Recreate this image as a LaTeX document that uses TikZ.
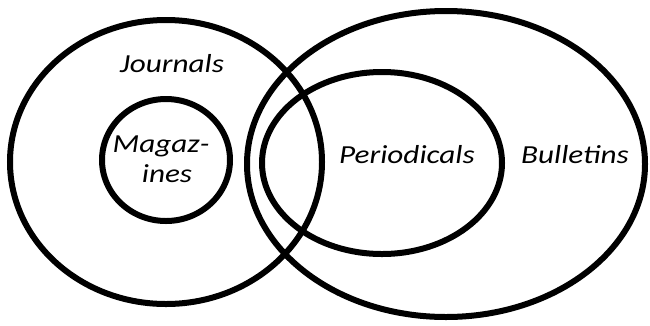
\documentclass[tikz,border=0pt]{standalone}
\usepackage{fontspec}
\setmainfont{Carlito}
\newfontfamily\lblfont[FakeStretch=1.2]{Carlito}
\begin{document}
\begin{tikzpicture}[x=1pt,y=-1pt,
  ring/.style={draw=black,line width=6pt},
  lbl/.style={font=\lblfont\itshape\fontsize{26}{30}\selectfont,inner sep=0pt,anchor=base}]
\useasboundingbox[fill=white] (0,0) rectangle (650,325);
\draw[ring] (166,162) ellipse [x radius=156, y radius=142];
\draw[ring] (166,160) ellipse [x radius=64, y radius=61];
\draw[ring] (446,164) ellipse [x radius=199, y radius=153];
\draw[ring] (382,163) ellipse [x radius=120, y radius=91];
\node[lbl] (journals) at (172,72) {Journals};
\node[lbl] (magaz) at (161,152) {Magaz-};
\node[lbl] (ines) at (167,182) {ines};
\node[lbl] (periodicals) at (407,163) {Periodicals};
\node[lbl] (bulletins) at (575,163) {Bulletins};
\end{tikzpicture}
\end{document}
